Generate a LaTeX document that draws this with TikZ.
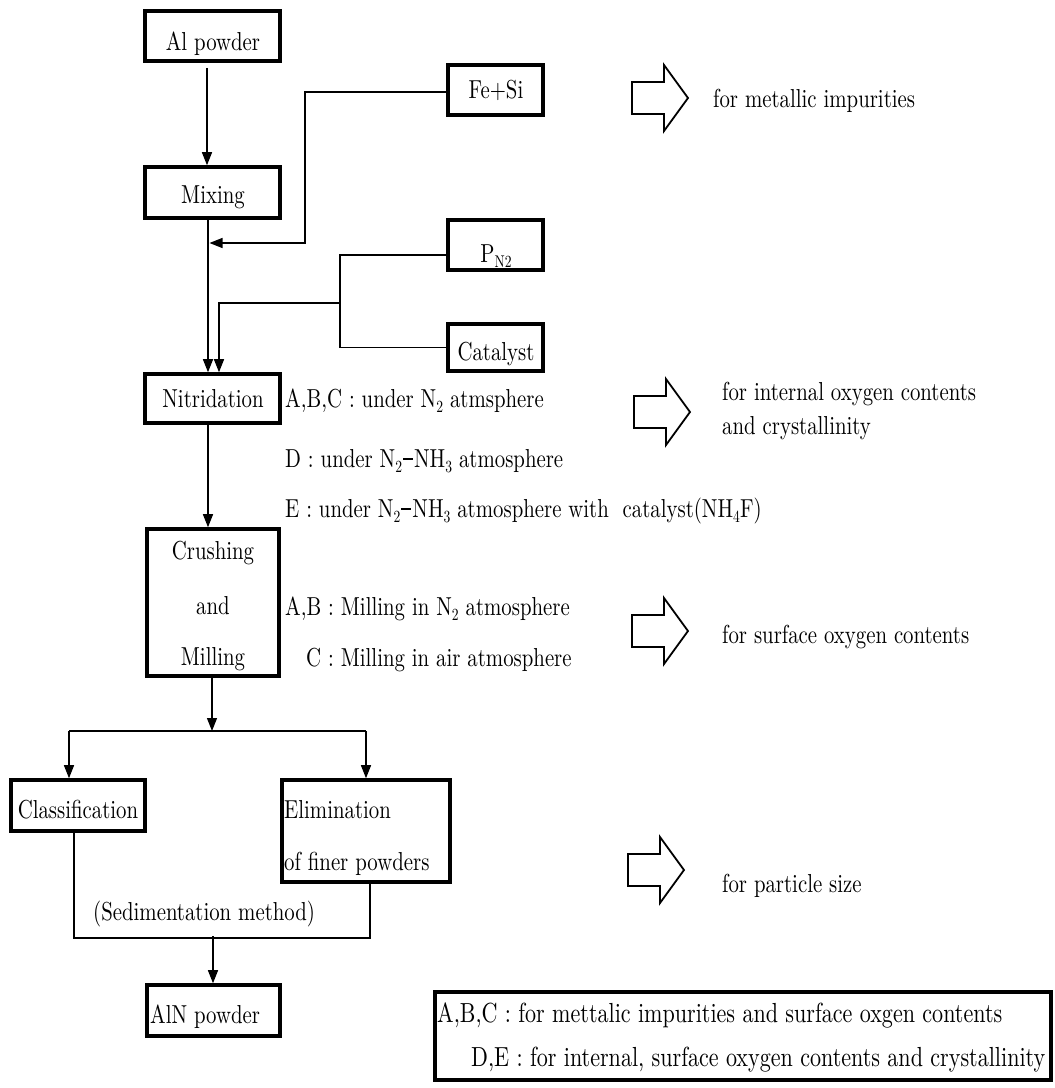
\documentclass[tikz,border=0pt]{standalone}
\usepackage{fontspec}
\setmainfont{lmroman10-regular}[Extension=.otf, FakeStretch=0.8]
\usetikzlibrary{arrows.meta}

% condensed text size used throughout the chart
\newcommand\chartsize{\fontsize{26}{31}\selectfont}
\newcommand\legendsize{\fontsize{27.6}{33}\selectfont}
% chemical subscript and the heavy dash of N2-NH3
\newcommand\low[1]{\raisebox{-5pt}{\fontsize{17}{17}\selectfont #1}}
\newcommand\bdash{\kern1pt\rule[7pt]{10pt}{2.2pt}\kern1pt}

\tikzset{
  box/.style={draw, line width=3.6pt, inner sep=0pt},
  lbl/.style={anchor=base, inner sep=0pt, font=\chartsize},
  lblw/.style={anchor=base west, inner sep=0pt, font=\chartsize},
  link/.style={line width=1.3pt},
  arr/.style={link, -{Triangle[length=13pt,width=10pt]}},
  fatarrow/.pic={
    \draw[line width=1.8pt, line join=miter]
      (-28,-16) -- (4,-16) -- (4,-33) -- (28,0) -- (4,33) -- (4,16) -- (-28,16) -- cycle;
  }
}

\begin{document}
\begin{tikzpicture}[x=1pt,y=-1pt]
\useasboundingbox[fill=white] (0,0) rectangle (1055,1088);

% process boxes
\node[box, minimum width=135pt, minimum height=50pt]  (al)    at (212.5,36)    {};
\node[box, minimum width=135pt, minimum height=51pt]  (mix)   at (212.5,192.5) {};
\node[box, minimum width=95pt,  minimum height=50pt]  (fesi)  at (495.5,90)    {};
\node[box, minimum width=95pt,  minimum height=50pt]  (pn2)   at (495.5,245)   {};
\node[box, minimum width=95pt,  minimum height=47pt]  (cat)   at (495.5,347.5) {};
\node[box, minimum width=135pt, minimum height=49pt]  (nit)   at (212.5,398.5) {};
\node[box, minimum width=132pt, minimum height=147pt] (crush) at (213,602.5)   {};
\node[box, minimum width=134pt, minimum height=51pt]  (cls)   at (78,805.5)    {};
\node[box, minimum width=168pt, minimum height=102pt] (elim)  at (366,831)     {};
\node[box, minimum width=133pt, minimum height=51pt]  (aln)   at (213.5,1010.5){};
\node[box, minimum width=616pt, minimum height=88pt]  (legend) at (743,1036)   {};

% box labels
\node[lbl]  (tal)   at (213,50)   {Al powder};
\node[lbl]  (tmix)  at (213,203)  {Mixing};
\node[lbl]  (tfesi) at (496,98)   {Fe+Si};
\node[lbl]  (tpn2)  at (496,262)  {P\low{N2}};
\node[lbl]  (tcat)  at (496,360)  {Catalyst};
\node[lbl]  (tnit)  at (213,407)  {Nitridation};
\node[lbl]  (tcr1)  at (213,559)  {Crushing};
\node[lbl]  (tcr2)  at (213,614)  {and};
\node[lbl]  (tcr3)  at (213,665)  {Milling};
\node[lbl]  (tcls)  at (78,818)   {Classification};
\node[lblw] (tel1)  at (284,818)  {Elimination};
\node[lblw] (tel2)  at (284,870)  {of finer powders};
\node[lblw] (taln)  at (150,1023) {AlN powder};

% process conditions
\node[lblw] (n1) at (285,407) {A,B,C : under N\low{2} atmsphere};
\node[lblw] (n2) at (285,467) {D : under N\low{2}\bdash NH\low{3} atmosphere};
\node[lblw] (n3) at (285,517) {E : under N\low{2}\bdash NH\low{3} atmosphere with\ \ catalyst(NH\low{4}F)};
\node[lblw] (n4) at (285,615) {A,B : Milling in N\low{2} atmosphere};
\node[lblw] (n5) at (306,666) {C : Milling in air atmosphere};
\node[lblw] (sed) at (93,920) {(Sedimentation method)};

% purposes on the right
\pic at (660,98)  {fatarrow};
\pic at (662,412) {fatarrow};
\pic at (660,631) {fatarrow};
\pic at (656,870) {fatarrow};
\node[lblw] (r1) at (713,107) {for metallic impurities};
\node[lblw] (r2) at (722,400) {for internal oxygen contents};
\node[lblw] (r3) at (722,434) {and crystallinity};
\node[lblw] (r4) at (722,643) {for surface oxygen contents};
\node[lblw] (r5) at (722,892) {for particle size};

% legend text
\node[lblw, font=\legendsize] (g1) at (437,1022) {A,B,C : for mettalic impurities and surface oxgen contents};
\node[lblw, font=\legendsize] (g2) at (471,1066) {D,E : for internal, surface oxygen contents and crystallinity};

% main flow
\draw[arr, shorten <=5pt] ([xshift=-5.5pt]al.south) -- ([xshift=-5.5pt]mix.north);
\draw[arr] ([xshift=-4.5pt]mix.south) -- ([xshift=-4.5pt]nit.north);

% Fe+Si addition
\coordinate (fecorner) at (305,243);
\coordinate (fetip)    at (209.5,243);
\draw[arr] ([yshift=-2pt]fesi.west) -| (fecorner) -- (fetip);

% nitrogen pressure and catalyst
\coordinate (cbar) at (340,303);
\draw[link] ([yshift=-10pt]pn2.west) -| (cbar) |- (cat.west);
\draw[arr] (cbar) -| ([xshift=6.5pt]nit.north);

\draw[arr] ([xshift=-4.5pt]nit.south) -- ([xshift=-4.5pt]nit.south |- crush.north);

% split after milling
\coordinate (sM) at (212,731);
\coordinate (sL) at (69,731);
\coordinate (sR) at (366,731);
\draw[arr] (crush.south -| sM) -- (sM);
\draw[link] (sL) -- (sR);
\draw[arr] (sL) -- (sL |- cls.north);
\draw[arr] (sR) -- (sR |- elim.north);

% merge to AlN powder
\coordinate (mL) at (74,938);
\coordinate (mR) at (370,938);
\coordinate (mM) at (213,936);
\draw[link] (cls.south -| mL) -- (mL) -- (mR) -- (mR |- elim.south);
\draw[arr] (mM) -- (mM |- aln.north);
\end{tikzpicture}
\end{document}
